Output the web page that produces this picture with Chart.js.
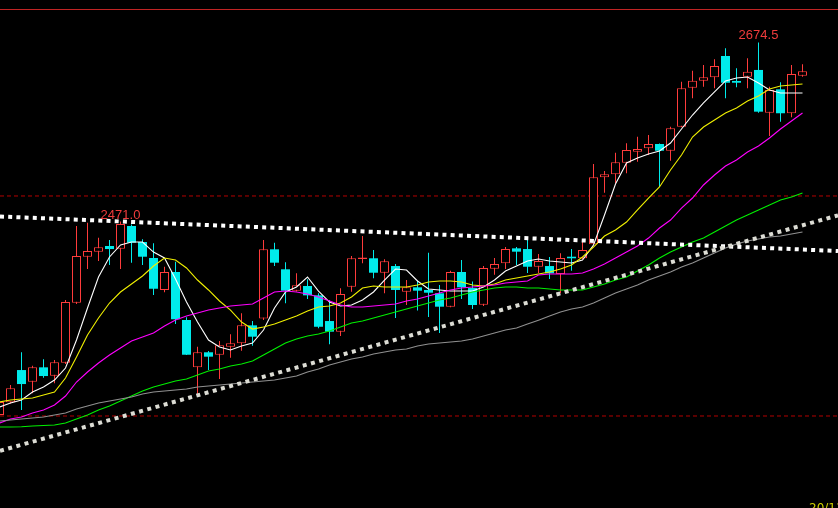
<!DOCTYPE html>
<html><head><meta charset="utf-8">
<script src="https://cdn.jsdelivr.net/npm/chart.js@4.4.0/dist/chart.umd.min.js"></script>
<style>html,body{margin:0;padding:0;background:#000;overflow:hidden}canvas{display:block;background:#000}</style>
</head><body>
<canvas id="c" width="838" height="508"></canvas>
<script>
// ---- data ----
const opens  = [2251.1,2265.5,2302.2,2289.0,2305.3,2295.8,2310.5,2378.7,2431.0,2436.7,2443.2,2440.1,2465.9,2447.7,2429.5,2393.2,2413.6,2359.1,2305.3,2322.4,2319.6,2328.7,2332.6,2353.0,2360.8,2439.4,2416.7,2392.4,2397.7,2387.1,2357.9,2345.8,2396.9,2428.4,2429.2,2412.8,2420.4,2391.2,2396.2,2393.2,2389.4,2374.2,2413.6,2395.4,2376.4,2417.4,2423.5,2440.5,2439.7,2419.6,2420.4,2411.3,2431.0,2429.2,2445.1,2521.2,2524.6,2537.8,2550.3,2554.2,2559.1,2551.4,2578.7,2623.0,2631.0,2634.9,2659.1,2630.7,2635.5,2643.2,2594.6,2621.2,2594.0,2636.7];
const highs  = [2269.3,2285.2,2322.4,2307.1,2314.4,2313.6,2381.8,2465.9,2469.6,2452.6,2450.0,2471.0,2467.6,2450.8,2446.2,2419.6,2425.3,2362.1,2328.7,2323.8,2335.2,2342.8,2366.7,2357.9,2450.0,2446.9,2424.6,2412.1,2405.3,2389.4,2381.8,2395.1,2431.8,2454.5,2438.6,2428.0,2422.7,2404.5,2404.0,2435.5,2398.8,2415.1,2427.2,2402.8,2420.4,2429.5,2442.0,2442.0,2453.0,2434.1,2430.7,2434.9,2439.7,2448.8,2536.3,2528.4,2549.2,2559.9,2567.4,2569.3,2559.5,2578.7,2629.9,2642.4,2648.8,2655.3,2667.8,2645.1,2656.5,2674.5,2624.2,2629.2,2648.8,2649.6];
const lows   = [2247.7,2264.2,2256.8,2275.8,2293.5,2287.1,2309.1,2377.2,2417.0,2426.1,2421.6,2417.0,2424.2,2421.6,2387.5,2390.5,2354.5,2319.3,2271.9,2302.2,2292.0,2316.2,2324.2,2329.9,2359.1,2420.4,2378.0,2391.4,2382.9,2349.6,2331.4,2340.9,2391.2,2423.5,2406.5,2389.4,2361.3,2376.1,2369.9,2362.5,2344.3,2373.5,2382.9,2371.6,2375.0,2410.5,2417.0,2421.6,2412.5,2412.5,2405.7,2389.4,2415.1,2428.5,2444.5,2503.7,2514.4,2525.8,2539.0,2546.6,2510.2,2540.1,2578.0,2611.0,2624.2,2622.4,2611.0,2623.5,2622.4,2594.6,2568.2,2584.4,2589.4,2635.5];
const closes = [2265.9,2281.5,2286.3,2305.3,2295.4,2311.0,2379.5,2431.8,2437.5,2441.7,2439.7,2468.2,2446.9,2431.0,2394.6,2413.6,2359.9,2319.6,2322.4,2317.4,2330.3,2332.6,2353.0,2340.1,2439.4,2424.2,2392.4,2398.5,2387.1,2351.4,2345.8,2388.6,2429.2,2430.1,2412.8,2425.8,2393.2,2396.2,2392.4,2390.1,2374.2,2413.6,2396.2,2376.1,2418.2,2422.7,2439.7,2436.7,2419.6,2426.1,2412.1,2429.5,2429.2,2438.6,2521.2,2524.6,2538.3,2552.2,2553.4,2559.1,2551.4,2576.9,2622.4,2631.0,2634.9,2647.7,2628.7,2628.7,2641.2,2595.8,2620.4,2594.0,2638.6,2641.7];

const ma5   = [2260.2,2264.7,2268.2,2277.2,2282.9,2290.9,2304.5,2336.3,2372.7,2407.9,2430.7,2444.3,2447.7,2447.7,2436.3,2429.5,2405.7,2379.5,2356.8,2336.3,2328.4,2325.0,2329.5,2332.9,2347.7,2372.7,2390.9,2396.6,2407.9,2392.0,2379.5,2375.0,2376.1,2381.8,2390.9,2404.5,2417.0,2415.9,2403.4,2394.3,2393.2,2392.0,2392.0,2392.0,2396.6,2404.5,2414.7,2420.4,2426.1,2428.4,2426.1,2425.0,2423.8,2427.2,2444.3,2478.4,2513.6,2537.5,2543.2,2547.7,2551.1,2560.2,2576.1,2592.0,2605.7,2618.2,2630.7,2634.1,2635.2,2628.4,2620.4,2617.0,2617.0,2617.0];
const ma10  = [2265.9,2268.2,2269.3,2270.4,2273.8,2277.2,2293.2,2317.0,2342.0,2361.3,2378.4,2390.9,2400.0,2409.1,2420.4,2429.5,2427.2,2418.2,2404.5,2393.2,2380.7,2370.4,2356.8,2348.8,2351.1,2354.5,2359.1,2363.6,2369.3,2373.8,2375.0,2378.4,2385.2,2395.4,2397.7,2396.6,2396.6,2396.6,2398.8,2402.2,2403.4,2403.4,2402.2,2398.8,2397.7,2400.0,2404.5,2406.8,2409.1,2411.3,2413.6,2417.0,2421.6,2430.7,2442.0,2454.5,2461.3,2470.4,2484.1,2497.7,2510.2,2529.5,2546.6,2567.0,2578.4,2586.3,2594.3,2600.0,2607.9,2613.6,2621.6,2625.0,2626.1,2627.2];
const ma20  = [2242.0,2246.6,2248.8,2253.4,2256.8,2262.5,2272.7,2288.6,2300.0,2310.2,2319.3,2327.2,2335.2,2339.7,2344.3,2352.2,2359.1,2363.6,2367.0,2370.4,2372.7,2375.0,2376.1,2377.2,2384.1,2390.9,2392.0,2390.9,2388.6,2385.2,2380.7,2376.1,2373.8,2373.8,2375.0,2376.1,2377.2,2380.7,2382.9,2386.3,2389.7,2393.2,2395.4,2396.6,2397.7,2398.8,2401.1,2402.2,2403.4,2410.2,2411.3,2411.3,2411.3,2412.5,2417.0,2422.7,2429.5,2436.3,2443.2,2452.2,2463.6,2472.7,2486.3,2497.7,2512.5,2523.8,2534.1,2540.9,2550.0,2556.8,2565.9,2576.1,2585.2,2594.3];
const ma60  = [2237.5,2237.5,2237.8,2238.6,2239.2,2239.7,2242.0,2246.6,2251.1,2256.8,2261.3,2267.0,2272.7,2278.4,2282.9,2286.3,2289.7,2292.0,2296.6,2301.1,2303.4,2306.8,2309.1,2312.5,2319.3,2326.1,2332.9,2337.5,2340.9,2343.2,2346.6,2351.1,2355.7,2357.9,2361.3,2364.7,2368.2,2371.6,2375.0,2378.4,2381.8,2384.1,2387.5,2390.9,2393.2,2395.4,2396.6,2396.6,2395.4,2395.4,2394.3,2393.2,2393.2,2393.2,2396.6,2400.0,2404.5,2407.9,2414.7,2421.6,2429.5,2436.3,2442.0,2447.7,2452.2,2459.1,2465.9,2472.7,2478.4,2484.1,2489.7,2495.4,2498.8,2503.4];
const ma120 = [2244.3,2245.4,2246.6,2247.7,2248.8,2251.1,2253.4,2257.9,2261.3,2264.7,2267.0,2269.3,2271.6,2275.0,2277.2,2278.4,2279.5,2280.7,2282.9,2284.1,2285.2,2286.3,2287.5,2288.6,2289.7,2290.9,2293.2,2295.4,2300.0,2303.4,2307.9,2311.3,2314.7,2317.0,2320.4,2322.7,2325.0,2326.1,2329.5,2331.8,2332.9,2334.1,2335.2,2337.5,2340.9,2344.3,2347.7,2350.0,2354.5,2358.9,2363.6,2368.2,2371.6,2373.8,2378.4,2384.1,2389.7,2394.3,2398.8,2404.5,2409.1,2413.6,2419.3,2423.8,2429.5,2435.2,2440.9,2445.4,2448.8,2451.1,2453.4,2454.5,2456.8,2459.1];

// trend lines: [start, end] in (bar index, price)
const trendX       = [0.045, 76.227];
const downTrend    = [2476.7, 2437.5];
const upTrend      = [2210.4, 2478.0];
const levelLines   = [2500, 2250];
const markedHighs  = [11, 69];
const dateLabel    = '20/11';
const yRange       = [2145.45, 2722.7];

// ---- chart ----
const days = opens.map((_, i) => i);
const UP = '#ff3c3c', DOWN = '#00ebeb';
const isUp = i => closes[i] >= opens[i];
const seg = (ys) => [{x: trendX[0], y: ys[0]}, {x: trendX[1], y: ys[1]}];
const maLine = (arr, color) => ({
  type: 'line', data: days.map(i => ({x: i, y: arr[i]})), borderColor: color,
  borderWidth: 1.1, pointRadius: 0, tension: 0, order: 1
});

const datasets = [
  ...levelLines.map(v => ({type: 'line', data: seg([v, v]), borderColor: '#b40000', borderWidth: 1,
    borderDash: [4, 3], pointRadius: 0, order: 5})),
  {type: 'bar', data: days.map(i => ({x: i, y: [lows[i], highs[i]]})),
   backgroundColor: c => isUp(c.dataIndex) ? UP : DOWN, borderWidth: 0,
   barThickness: 1, grouped: false, inflateAmount: 0, order: 4},
  {type: 'bar', data: days.map(i => ({x: i, y: [Math.min(opens[i], closes[i]), Math.max(opens[i], closes[i])]})),
   backgroundColor: c => isUp(c.dataIndex) ? '#000000' : DOWN,
   borderColor: c => isUp(c.dataIndex) ? UP : DOWN,
   borderWidth: c => isUp(c.dataIndex) ? 1 : 0, borderSkipped: false,
   barThickness: 9, grouped: false, inflateAmount: 0, order: 3},
  maLine(ma120, '#909090'),
  maLine(ma60, '#00f000'),
  maLine(ma20, '#ff00ff'),
  maLine(ma10, '#f0f000'),
  maLine(ma5, '#ffffff'),
  {type: 'line', data: seg(upTrend), borderColor: '#dcdcd4', borderWidth: 4, borderDash: [4, 4.5],
   borderCapStyle: 'butt', pointRadius: 0, order: 0},
  {type: 'line', data: seg(downTrend), borderColor: '#ffffff', borderWidth: 4, borderDash: [4, 4.2],
   borderCapStyle: 'butt', pointRadius: 0, order: 0}
];

const overlay = {
  id: 'overlay',
  afterDatasetsDraw(chart) {
    const {ctx, scales: {x, y}} = chart;
    ctx.save();
    ctx.strokeStyle = '#c02424'; ctx.lineWidth = 1;
    ctx.beginPath(); ctx.moveTo(0, 9.5); ctx.lineTo(chart.width, 9.5); ctx.stroke();
    ctx.font = '13px "Liberation Sans", Arial, sans-serif';
    ctx.fillStyle = '#f03c3c'; ctx.textAlign = 'center'; ctx.textBaseline = 'alphabetic';
    markedHighs.forEach(i => ctx.fillText(highs[i].toFixed(1), x.getPixelForValue(i), y.getPixelForValue(highs[i]) - 3));
    ctx.font = '12px "DejaVu Sans", sans-serif';
    ctx.fillStyle = '#d0d000'; ctx.textAlign = 'left'; ctx.textBaseline = 'top';
    ctx.fillText(dateLabel, 809, 503);
    ctx.restore();
  }
};

new Chart(document.getElementById('c'), {
  type: 'bar',
  data: {datasets},
  options: {
    responsive: false, animation: false, devicePixelRatio: 1,
    layout: {padding: 0},
    plugins: {legend: {display: false}, tooltip: {enabled: false}},
    scales: {
      x: {type: 'linear', min: trendX[0], max: trendX[1], display: false, offset: false},
      y: {type: 'linear', min: yRange[0], max: yRange[1], display: false}
    }
  },
  plugins: [overlay]
});
</script>
</body></html>
